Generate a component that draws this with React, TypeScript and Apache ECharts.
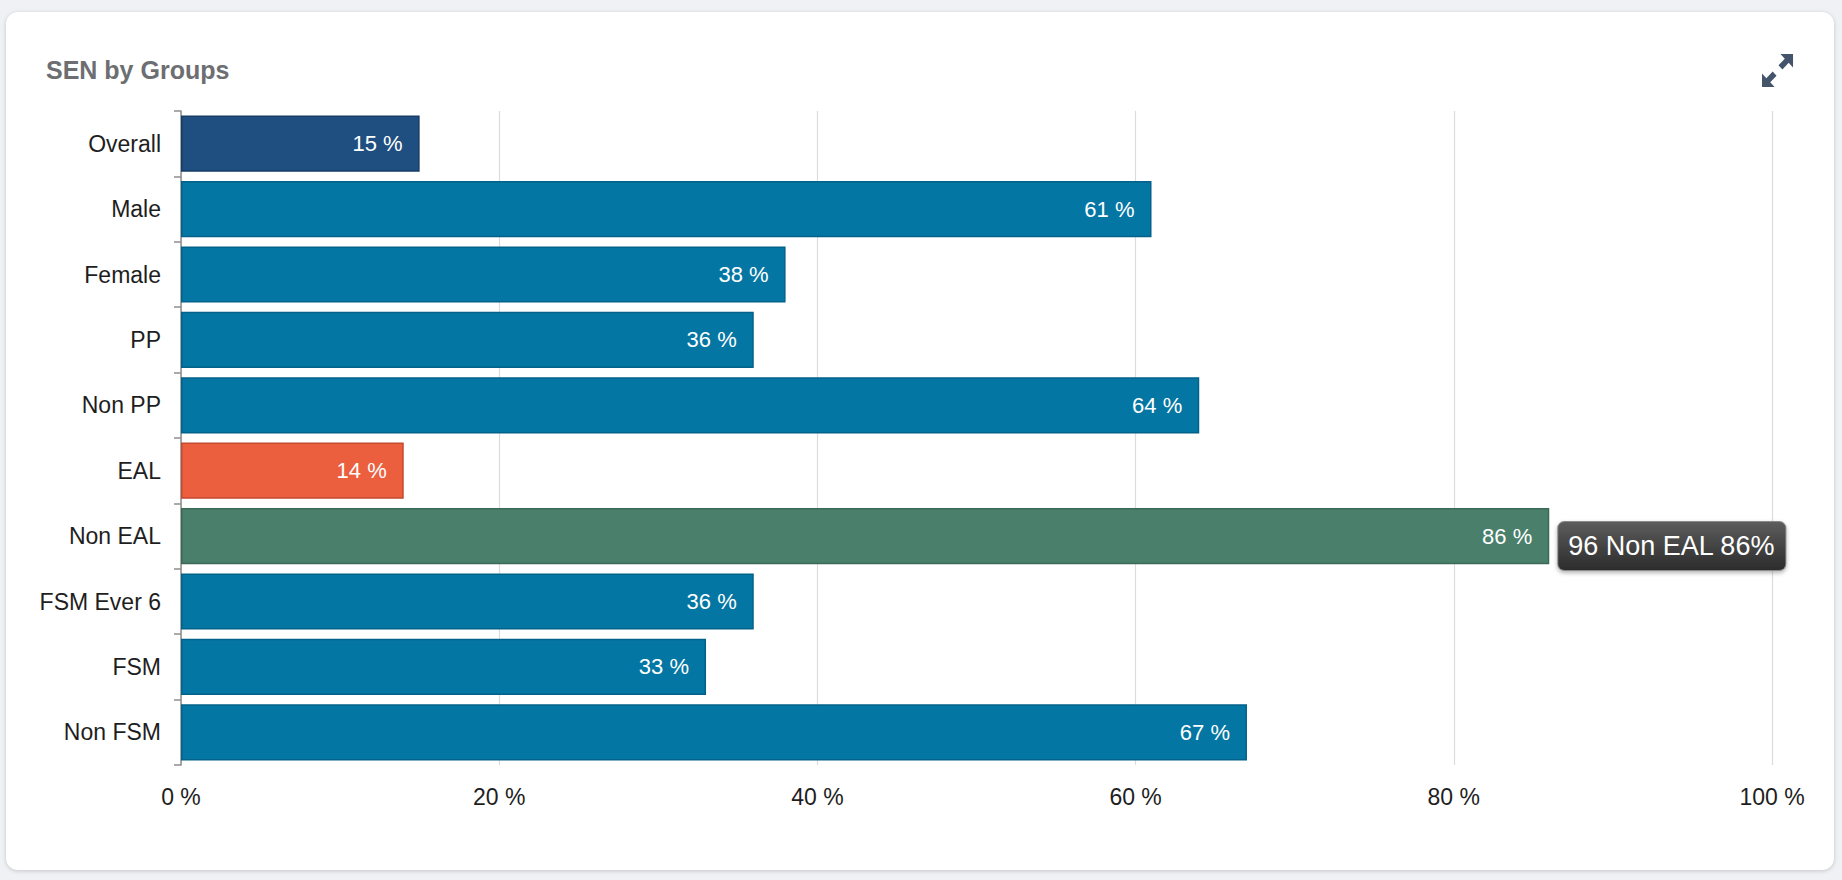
import React, { useEffect, useRef } from "react";
import * as echarts from "echarts";

const categories = ["Overall", "Male", "Female", "PP", "Non PP", "EAL", "Non EAL", "FSM Ever 6", "FSM", "Non FSM"];
const values = [15, 61, 38, 36, 64, 14, 86, 36, 33, 67];
const barColors = ["#1f4f80", "#0476a3", "#0476a3", "#0476a3", "#0476a3", "#eb5e3e", "#497f6b", "#0476a3", "#0476a3", "#0476a3"];
const borderColors = ["#173d66", "#03628a", "#03628a", "#03628a", "#03628a", "#c44a2f", "#3c6a58", "#03628a", "#03628a", "#03628a"];
const highlightCategory = "Non EAL";
const highlightCount = 96;
const titleText = "SEN by Groups";

const EXPAND_D =
  "M19 0 L32 0 L32 13 L27.5 8.5 L21 15 L17 11 L23.5 4.5 Z M13 32 L0 32 L0 19 L4.5 23.5 L11 17 L15 21 L8.5 27.5 Z";
echarts.graphic.registerShape("expandIcon", echarts.graphic.extendPath(EXPAND_D, {}));

const FONT = '"Liberation Sans", Arial, Helvetica, sans-serif';

export default function App() {
  const ref = useRef<HTMLDivElement>(null);
  useEffect(() => {
    if (!ref.current) return;
    const chart = echarts.init(ref.current, undefined, { renderer: "svg" });
    const hiIndex = categories.indexOf(highlightCategory);
    chart.setOption({
      animation: false,
      textStyle: { fontFamily: FONT },
      title: {
        text: titleText,
        left: 35,
        top: 40,
        textStyle: { fontSize: 25, fontWeight: 600, color: "#6d6e71", fontFamily: FONT },
      },
      grid: { left: 175, right: 62, top: 99, bottom: 105, containLabel: false },
      xAxis: {
        type: "value",
        min: 0,
        max: 100,
        interval: 20,
        axisLine: { show: false },
        axisTick: { show: false },
        splitLine: { show: true, lineStyle: { color: "#dcdcdc", width: 1.2 } },
        axisLabel: {
          formatter: "{value} %",
          fontSize: 23,
          color: "#1e1e1e",
          margin: 20,
          fontFamily: FONT,
        },
      },
      yAxis: {
        type: "category",
        data: categories,
        inverse: true,
        axisLine: { show: true, lineStyle: { color: "#8e8e8e", width: 1.5 } },
        axisTick: { show: true, length: 7, lineStyle: { color: "#8e8e8e", width: 1.5 } },
        axisLabel: { fontSize: 23, color: "#1e1e1e", margin: 20, fontFamily: FONT },
        splitLine: { show: false },
      },
      series: [
        {
          type: "bar",
          barCategoryGap: "14%",
          data: values.map((v, i) => ({
            value: v,
            itemStyle: { color: barColors[i], borderColor: borderColors[i], borderWidth: 1.5 },
          })),
          label: {
            show: true,
            position: "insideRight",
            distance: 17,
            formatter: "{c} %",
            color: "#ffffff",
            fontSize: 22,
            fontFamily: FONT,
          },
          z: 2,
        },
        {
          type: "bar",
          barGap: "-100%",
          barCategoryGap: "14%",
          silent: true,
          itemStyle: { color: "rgba(0,0,0,0)" },
          data: values.map((v, i) => (i === hiIndex ? v : "-")),
          label: {
            show: true,
            position: "right",
            distance: 9,
            offset: [0, 10],
            formatter: (p: any) => `${highlightCount} ${categories[p.dataIndex]} ${p.value}%`,
            color: "#ffffff",
            fontSize: 27,
            fontFamily: FONT,
            padding: [11, 10, 10, 10],
            borderRadius: 6,
            borderColor: "#8a8a8a",
            borderWidth: 1,
            backgroundColor: new echarts.graphic.LinearGradient(0, 0, 0, 1, [
              { offset: 0, color: "#5c5c5c" },
              { offset: 1, color: "#2c2c2c" },
            ]),
            shadowBlur: 4,
            shadowOffsetY: 2,
            shadowColor: "rgba(0,0,0,0.3)",
          },
          z: 5,
        },
      ],
      graphic: [
        {
          type: "expandIcon",
          x: 1756,
          y: 42,
          scaleX: 0.97,
          scaleY: 1.03,
          style: { fill: "#44546a" },
        },
      ],
    });
    return () => chart.dispose();
  }, []);

  return (
    <div
      style={{
        position: "fixed",
        left: 0,
        top: 0,
        width: 1842,
        height: 880,
        background: "#eff1f5",
      }}
    >
      <div
        style={{
          position: "absolute",
          left: 6,
          top: 12,
          width: 1828,
          height: 858,
          background: "#ffffff",
          borderRadius: 12,
          boxShadow: "0 1px 4px rgba(0,0,0,0.18)",
          overflow: "hidden",
        }}
      >
        <div ref={ref} style={{ width: 1828, height: 858 }} />
      </div>
    </div>
  );
}
